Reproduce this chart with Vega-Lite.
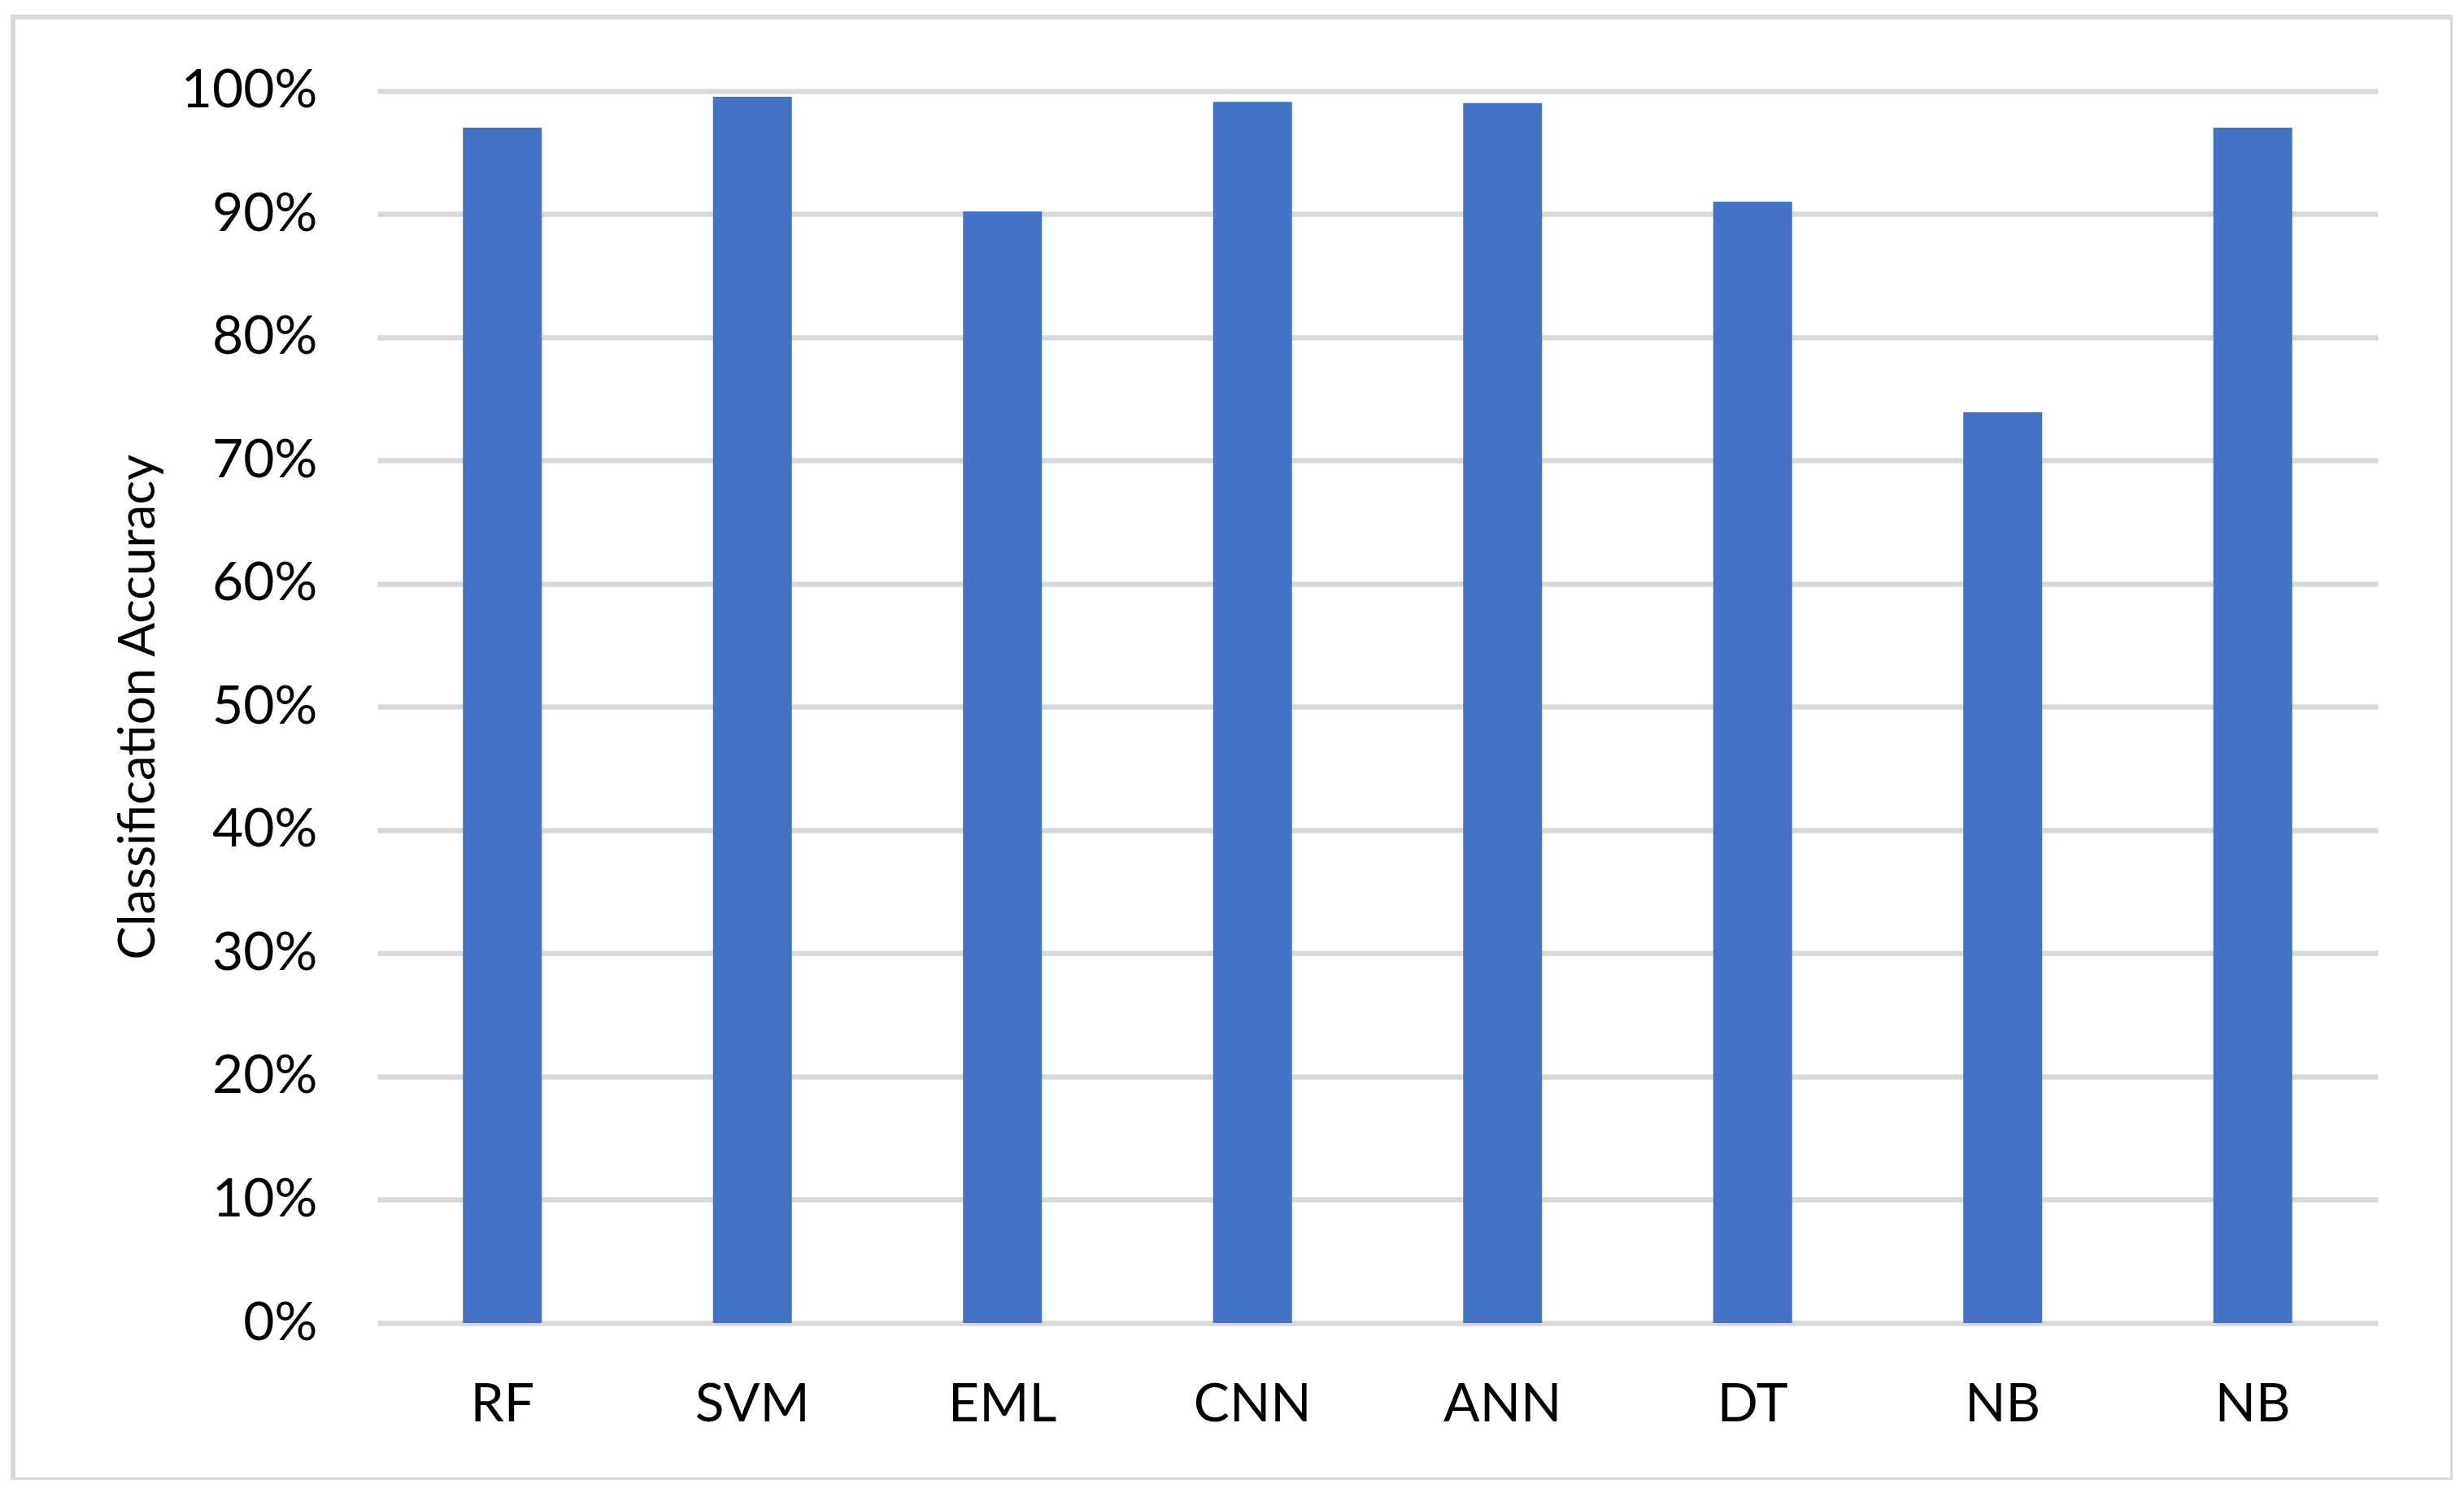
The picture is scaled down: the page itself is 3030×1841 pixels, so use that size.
{
  "$schema": "https://vega.github.io/schema/vega-lite/v6.json",
  "autosize": {"type": "none"},
  "padding": {"left": 16, "top": 21, "right": 0, "bottom": 0},
  "width": 3000,
  "height": 1799,
  "background": "white",
  "config": {
    "view": {"stroke": "#d9d9d9", "strokeWidth": 6},
    "font": "Lato"
  },
  "data": {
    "values": [
      {"model": "RF", "accuracy": 0.970},
      {"model": "SVM", "accuracy": 0.995},
      {"model": "EML", "accuracy": 0.902},
      {"model": "CNN", "accuracy": 0.991},
      {"model": "ANN", "accuracy": 0.990},
      {"model": "DT", "accuracy": 0.910},
      {"model": "NB", "accuracy": 0.739},
      {"model": "NB2", "accuracy": 0.970}
    ]
  },
  "mark": {"type": "bar", "color": "#4472C4"},
  "encoding": {
    "x": {
      "field": "model",
      "type": "nominal",
      "sort": null,
      "scale": {"range": [448, 2908], "paddingInner": 0.6846, "paddingOuter": 0.3423},
      "axis": {
        "title": null,
        "domain": false,
        "ticks": false,
        "labelAngle": 0,
        "labelFont": "Lato",
        "labelFontSize": 66,
        "labelColor": "#000000",
        "labelPadding": 68,
        "labelBaseline": "top",
        "offset": -193,
        "labelExpr": "datum.label == 'NB2' ? 'NB' : datum.label"
      }
    },
    "y": {
      "field": "accuracy",
      "type": "quantitative",
      "scale": {"domain": [0, 1], "range": [1606, 90.5], "nice": false, "zero": true},
      "axis": {
        "title": "Classification Accuracy",
        "titleFont": "Lato",
        "titleFontSize": 62,
        "titleFontWeight": "normal",
        "titleColor": "#000000",
        "titleX": -294,
        "titleBaseline": "middle",
        "format": ".0%",
        "values": [0, 0.1, 0.2, 0.3, 0.4, 0.5, 0.6, 0.7, 0.8, 0.9, 1.0],
        "domain": false,
        "ticks": false,
        "grid": true,
        "gridColor": "#d9d9d9",
        "gridWidth": 6.5,
        "labelFont": "Lato",
        "labelFontSize": 66,
        "labelColor": "#000000",
        "labelPadding": 74,
        "offset": -448
      }
    }
  }
}
